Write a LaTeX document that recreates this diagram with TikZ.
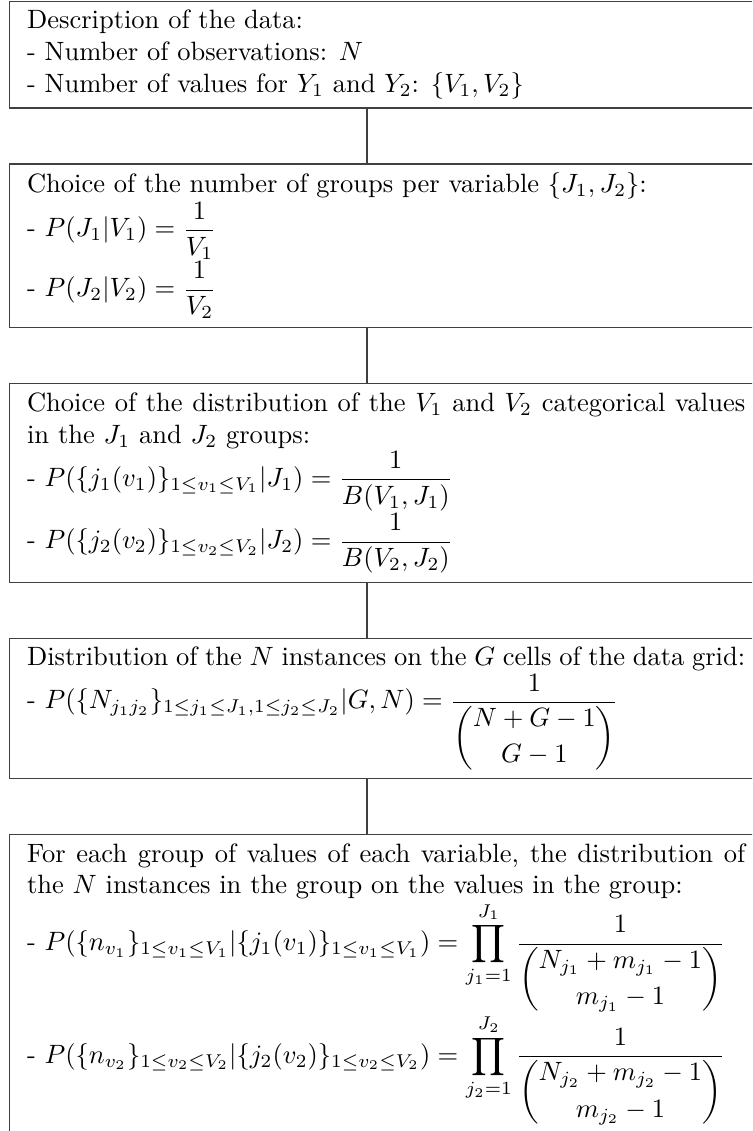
\documentclass[tikz,border=0pt]{standalone}
\usepackage{amsmath}
\begin{document}
\begin{tikzpicture}[x=1pt,y=1pt,
  box/.style={draw=black!75, line width=0.45pt, anchor=north west,
    text width=271pt, inner xsep=6.75pt, inner ysep=3.33pt, align=justify},
  conn/.style={draw=black!75, line width=0.45pt}]
\useasboundingbox (0,0) rectangle (283.8,-426.8);
\clip (0,0) rectangle (283.8,-426.8);
\coordinate (cx) at (138.5,0);
\node[box] (b1) at (3.25,-0.3) {Description of the data:\\
- Number of observations: $N$\\
- Number of values for $Y_1$ and $Y_2$: $\{V_1,V_2\}$};
\node[box] (b2) at ([yshift=-20.7pt]b1.south west) {Choice of the number of groups per variable $\{J_1,J_2\}$:\\
- $P(J_1|V_1)=\dfrac{1}{V_1}$\\
- $P(J_2|V_2)=\dfrac{1}{V_2}$};
\node[box] (b3) at ([yshift=-20.7pt]b2.south west) {Choice of the distribution of the $V_1$ and $V_2$ categorical values\linebreak
in the $J_1$ and $J_2$ groups:\\
\mbox{- $P(\{j_1(v_1)\}_{1\leq v_1\leq V_1}|J_1)=\dfrac{1}{B(V_1,J_1)}$}\\
\mbox{- $P(\{j_2(v_2)\}_{1\leq v_2\leq V_2}|J_2)=\dfrac{1}{B(V_2,J_2)}$}};
\node[box] (b4) at ([yshift=-20.7pt]b3.south west) {Distribution of the $N$ instances on the $G$ cells of the data grid:\linebreak
\mbox{- $P(\{N_{j_1j_2}\}_{1\leq j_1\leq J_1,1\leq j_2\leq J_2}|G,N)=\dfrac{1}{\dbinom{N+G-1}{G-1}}$}};
\node[box] (b5) at ([yshift=-20.7pt]b4.south west) {For each group of values of each variable, the distribution of\linebreak
the $N$ instances in the group on the values in the group:\\
\mbox{- $P(\{n_{v_1}\}_{1\leq v_1\leq V_1}|\{j_1(v_1)\}_{1\leq v_1\leq V_1})=\displaystyle\prod_{j_1=1}^{J_1}\dfrac{1}{\dbinom{N_{j_1}+m_{j_1}-1}{m_{j_1}-1}}$}\\
\mbox{- $P(\{n_{v_2}\}_{1\leq v_2\leq V_2}|\{j_2(v_2)\}_{1\leq v_2\leq V_2})=\displaystyle\prod_{j_2=1}^{J_2}\dfrac{1}{\dbinom{N_{j_2}+m_{j_2}-1}{m_{j_2}-1}}$}};
\draw[conn] (b1.south -| cx) -- (b2.north -| cx);
\draw[conn] (b2.south -| cx) -- (b3.north -| cx);
\draw[conn] (b3.south -| cx) -- (b4.north -| cx);
\draw[conn] (b4.south -| cx) -- (b5.north -| cx);
\end{tikzpicture}
\end{document}
